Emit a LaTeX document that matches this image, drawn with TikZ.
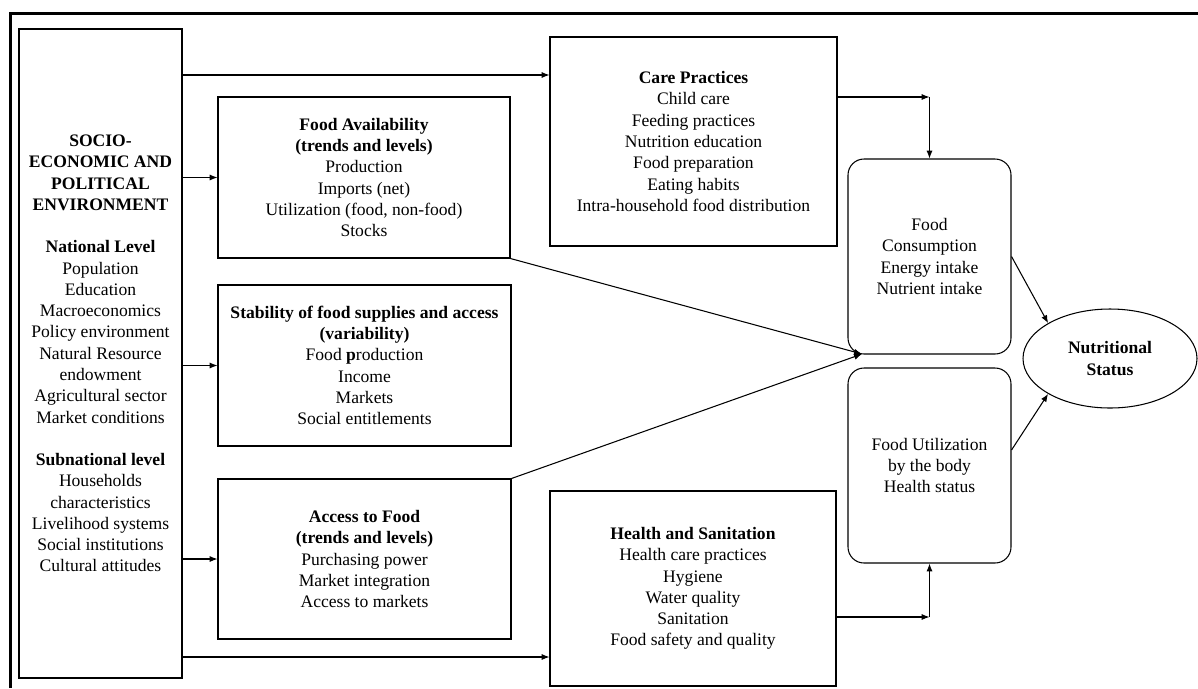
\documentclass[tikz,border=0pt]{standalone}
\usepackage{fontspec}
\setmainfont{Liberation Serif}
\usetikzlibrary{arrows.meta,shapes.geometric}

\begin{document}
\begin{tikzpicture}[
	box/.style={draw=black, line width=0.6pt, align=center, inner sep=0pt, font=\fontsize{10}{12.1}\selectfont},
	roundbox/.style={box, rounded corners=0.32cm},
	arr/.style={-{Latex[length=4.5pt,width=3.5pt]}, line width=0.6pt}
	]
	
	\useasboundingbox (0,0) rectangle (23.96,-13.76);
	\draw[line width=1.7pt] (0.21,-13.76) -- (0.21,-0.27) -- (23.96,-0.27);
	
	\node[box, minimum width=3.26cm, minimum height=12.98cm] (socio) at (2.01,-7.07) {\textbf{SOCIO-}\\\textbf{ECONOMIC AND}\\\textbf{POLITICAL}\\\textbf{ENVIRONMENT}\\[12.1pt]\textbf{National Level}\\Population\\Education\\Macroeconomics\\Policy environment\\Natural  Resource\\endowment\\Agricultural  sector\\Market  conditions\\[12.1pt]\textbf{Subnational level}\\Households\\characteristics\\Livelihood  systems\\Social institutions\\Cultural  attitudes};
	\node[box, minimum width=5.84cm, minimum height=3.22cm] (avail) at (7.28,-3.55) {\textbf{Food Availability}\\\textbf{(trends and levels)}\\Production\\Imports (net)\\Utilization  (food, non-food)\\Stocks};
	\node[box, minimum width=5.86cm, minimum height=3.22cm] (stab) at (7.29,-7.31) {\textbf{Stability of food supplies and access}\\\textbf{(variability)}\\Food \textbf{p}roduction\\Income\\Markets\\Social entitlements};
	\node[box, minimum width=5.86cm, minimum height=3.2cm] (access) at (7.29,-11.18) {\textbf{Access to Food}\\\textbf{(trends and levels)}\\Purchasing power\\Market  integration\\Access to markets};
	\node[box, minimum width=5.74cm, minimum height=4.18cm] (care) at (13.87,-2.83) {\textbf{Care Practices}\\Child  care\\Feeding  practices\\Nutrition  education\\Food preparation\\Eating  habits\\Intra-household  food distribution};
	\node[box, minimum width=5.72cm, minimum height=3.9cm] (health) at (13.86,-11.77) {\textbf{Health and Sanitation}\\Health  care practices\\Hygiene\\Water quality\\Sanitation\\Food safety and quality};
	\node[roundbox, minimum width=3.26cm, minimum height=3.9cm] (cons) at (18.59,-5.13) {Food\\Consumption\\Energy  intake\\Nutrient  intake};
	\node[roundbox, minimum width=3.26cm, minimum height=3.9cm] (util) at (18.59,-9.31) {Food Utilization\\by the  body\\Health  status};
	\node[box, shape=ellipse, minimum width=3.48cm, minimum height=1.98cm] (nutri) at (22.2,-7.17) {\textbf{Nutritional}\\\textbf{Status}};
	
	\coordinate (toptrack) at (0,-1.5);
	\coordinate (bottrack) at (0,-13.14);
	\coordinate (conv) at (17.24,-7.08);
	\coordinate (careturn) at (18.59,-1.94);
	\coordinate (healthturn) at (18.59,-12.34);
	
	\draw[arr] (socio.east |- toptrack) -- (care.west |- toptrack);
	\draw[arr] (socio.east |- avail.west) -- (avail.west);
	\draw[arr] (socio.east |- stab.west) -- (stab.west);
	\draw[arr] (socio.east |- access.west) -- (access.west);
	\draw[arr] (socio.east |- bottrack) -- (health.west |- bottrack);
	
	\draw[arr] (avail.south east) -- (conv);
	\draw[arr] (access.north east) -- (conv);
	
	\draw[arr] (care.east |- careturn) -- (careturn);
	\draw[arr] (careturn) -- (cons.north);
	\draw[arr] (health.east |- healthturn) -- (healthturn);
	\draw[arr] (healthturn) -- (util.south);
	
	\draw[arr] (cons.east) -- (nutri.north west);
	\draw[arr] ([yshift=0.31cm]util.east) -- (nutri.south west);
	
\end{tikzpicture}
\end{document}
